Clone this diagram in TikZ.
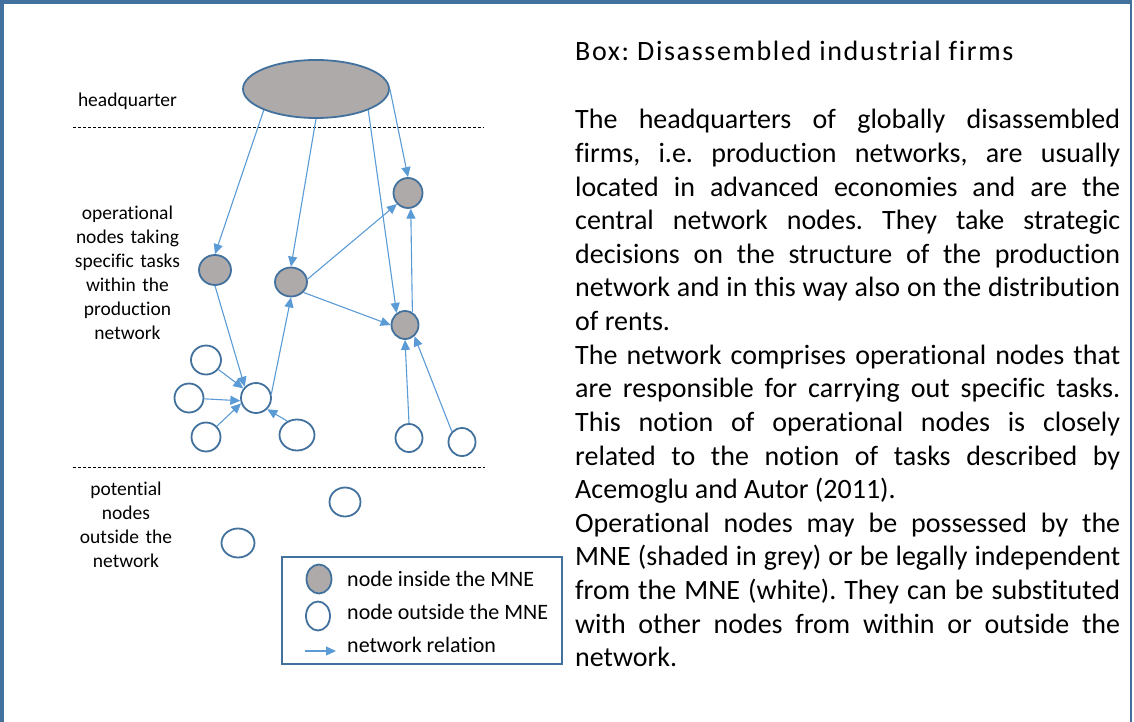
\documentclass[tikz,border=0pt]{standalone}
\usepackage{xcolor}
\usepackage{tikz}
\usepackage{fontspec}
\setmainfont{Carlito}[Ligatures=NoCommon]
\usetikzlibrary{shapes.geometric,arrows.meta}
\definecolor{nodeblue}{HTML}{41719C}
\definecolor{relblue}{HTML}{5B9BD5}
\definecolor{mnegrey}{HTML}{AEAAAA}
\frenchspacing
\tolerance=10000
\hyphenpenalty=10000

\begin{document}
\begin{tikzpicture}[x=1pt,y=-1pt,
    inside/.style={ellipse,draw=nodeblue,fill=mnegrey,line width=1.8pt,inner sep=0pt},
    outside/.style={ellipse,draw=nodeblue,fill=white,line width=1.8pt,inner sep=0pt},
    wh/.style 2 args={minimum width=#1pt,minimum height=#2pt},
    rel/.style={draw=relblue,line width=1.1pt,-{Triangle[length=10pt,width=9pt]}},
    level/.style={dash pattern=on 3pt off 2pt,line width=0.8pt},
    sidetext/.style={anchor=base,text width=130pt,align=center,inner sep=0pt,font=\fontsize{19.5}{24}\selectfont},
    keytext/.style={anchor=base west,inner sep=0pt,font=\fontsize{22}{26}\selectfont},
    boxtext/.style={anchor=base west,inner sep=0pt,font=\fontsize{28}{33.6}\selectfont}]
                \useasboundingbox (0,0) rectangle (1134,722);
                \draw[nodeblue,line width=4pt] (2,722) -- (2,2) -- (1132,2);
                \draw[nodeblue,line width=1.5pt] (1131,0) -- (1131,722);
                \draw[level] (73,127) -- (484,127);
                \draw[level] (73,467) -- (485,467);
                \node[sidetext] (hqtext) at (127.5,107) {headquarter};
                \node[sidetext] (optext) at (127.5,219) {operational\\nodes taking\\specific tasks\\within the\\production\\network};
                \node[sidetext] (pottext) at (126,495) {potential\\nodes\\outside the\\network};
                \node[inside,wh={146}{58}] (hq) at (316,89) {};
                \node[inside,wh={32}{30}] (g1) at (215,270) {};
                \node[inside,wh={32}{29}] (g2) at (291,282) {};
                \node[inside,wh={29}{30}] (g3) at (408,193) {};
                \node[inside,wh={27}{28}] (g4) at (405,325) {};
                \node[outside,wh={30}{29}] (w1) at (206,360) {};
                \node[outside,wh={29}{29}] (w2) at (189,398) {};
                \node[outside,wh={30}{30}] (w3) at (256,398) {};
                \node[outside,wh={29}{29}] (w4) at (206,437) {};
                \node[outside,wh={35}{31}] (w5) at (297,435) {};
                \node[outside,wh={27}{28}] (w6) at (409,438) {};
                \node[outside,wh={27}{28}] (w7) at (462,442) {};
                \node[outside,wh={31}{29}] (w8) at (345,502) {};
                \node[outside,wh={33}{29}] (w9) at (238,543) {};
                \draw[rel] (hq.south west) -- (g1.north);
                \draw[rel] (hq.south) -- (g2.north);
                \draw[rel] (hq.south east) -- (g4.125);
                \draw[rel] (hq.east) -- (g3.north);
                \draw[rel] (g2.10) -- (g3.225);
                \draw[rel] (g2.-40) -- (g4.west);
                \draw[rel] (g4.60) -- (g3.-80);
                \draw[rel] (g1.south) -- (w3.north west);
                \draw[rel] (w3.15) -- (g2.south);
                \draw[rel] (w1) -- (w3);
                \draw[rel] (w2) -- (w3.190);
                \draw[rel] (w4.north east) -- (w3.200);
                \draw[rel] (w5.125) -- (w3.south east);
                \draw[rel] (w6.north) -- (g4.south);
                \draw[rel] (w7.north west) -- (g4.-50);
                \node[draw=nodeblue,line width=1.3pt,minimum width=280pt,minimum height=107pt,inner sep=0pt] (key) at (422,610.5) {};
                \node[inside,wh={25}{29}] (keyin) at (319,579) {};
                \node[keytext] (keyintext) at (347,586) {node inside the MNE};
                \node[outside,wh={24}{29}] (keyout) at (318,616) {};
                \node[keytext] (keyouttext) at (347,619) {node outside the MNE};
                \coordinate (keya) at (305,651);
                \coordinate (keyb) at (336,651);
                \draw[rel] (keya) -- (keyb);
                \node[keytext] (keyreltext) at (347,652) {network relation};
                \node[boxtext,font=\fontsize{28}{33.6}\selectfont\addfontfeature{LetterSpace=5.9}] (title) at (575,61) {Box: Disassembled industrial firms};
                \node[boxtext,text width=545pt,align=justify] (body) at (575,129) {The headquarters of globally disassembled\linebreak
firms, i.e. production networks, are usually\linebreak
located in advanced economies and are the\linebreak
central network nodes. They take strategic\linebreak
decisions on the structure of the production\linebreak
network and in this way also on the distribution\linebreak
of rents.\par
The network comprises operational nodes that\linebreak
are responsible for carrying out specific tasks.\linebreak
This notion of operational nodes is closely\linebreak
related to the notion of tasks described by\linebreak
Acemoglu and Autor (2011).\par
Operational nodes may be possessed by the\linebreak
MNE (shaded in grey) or be legally independent\linebreak
from the MNE (white). They can be substituted\linebreak
with other nodes from within or outside the\linebreak
network.};
            \end{tikzpicture}
\end{document}
